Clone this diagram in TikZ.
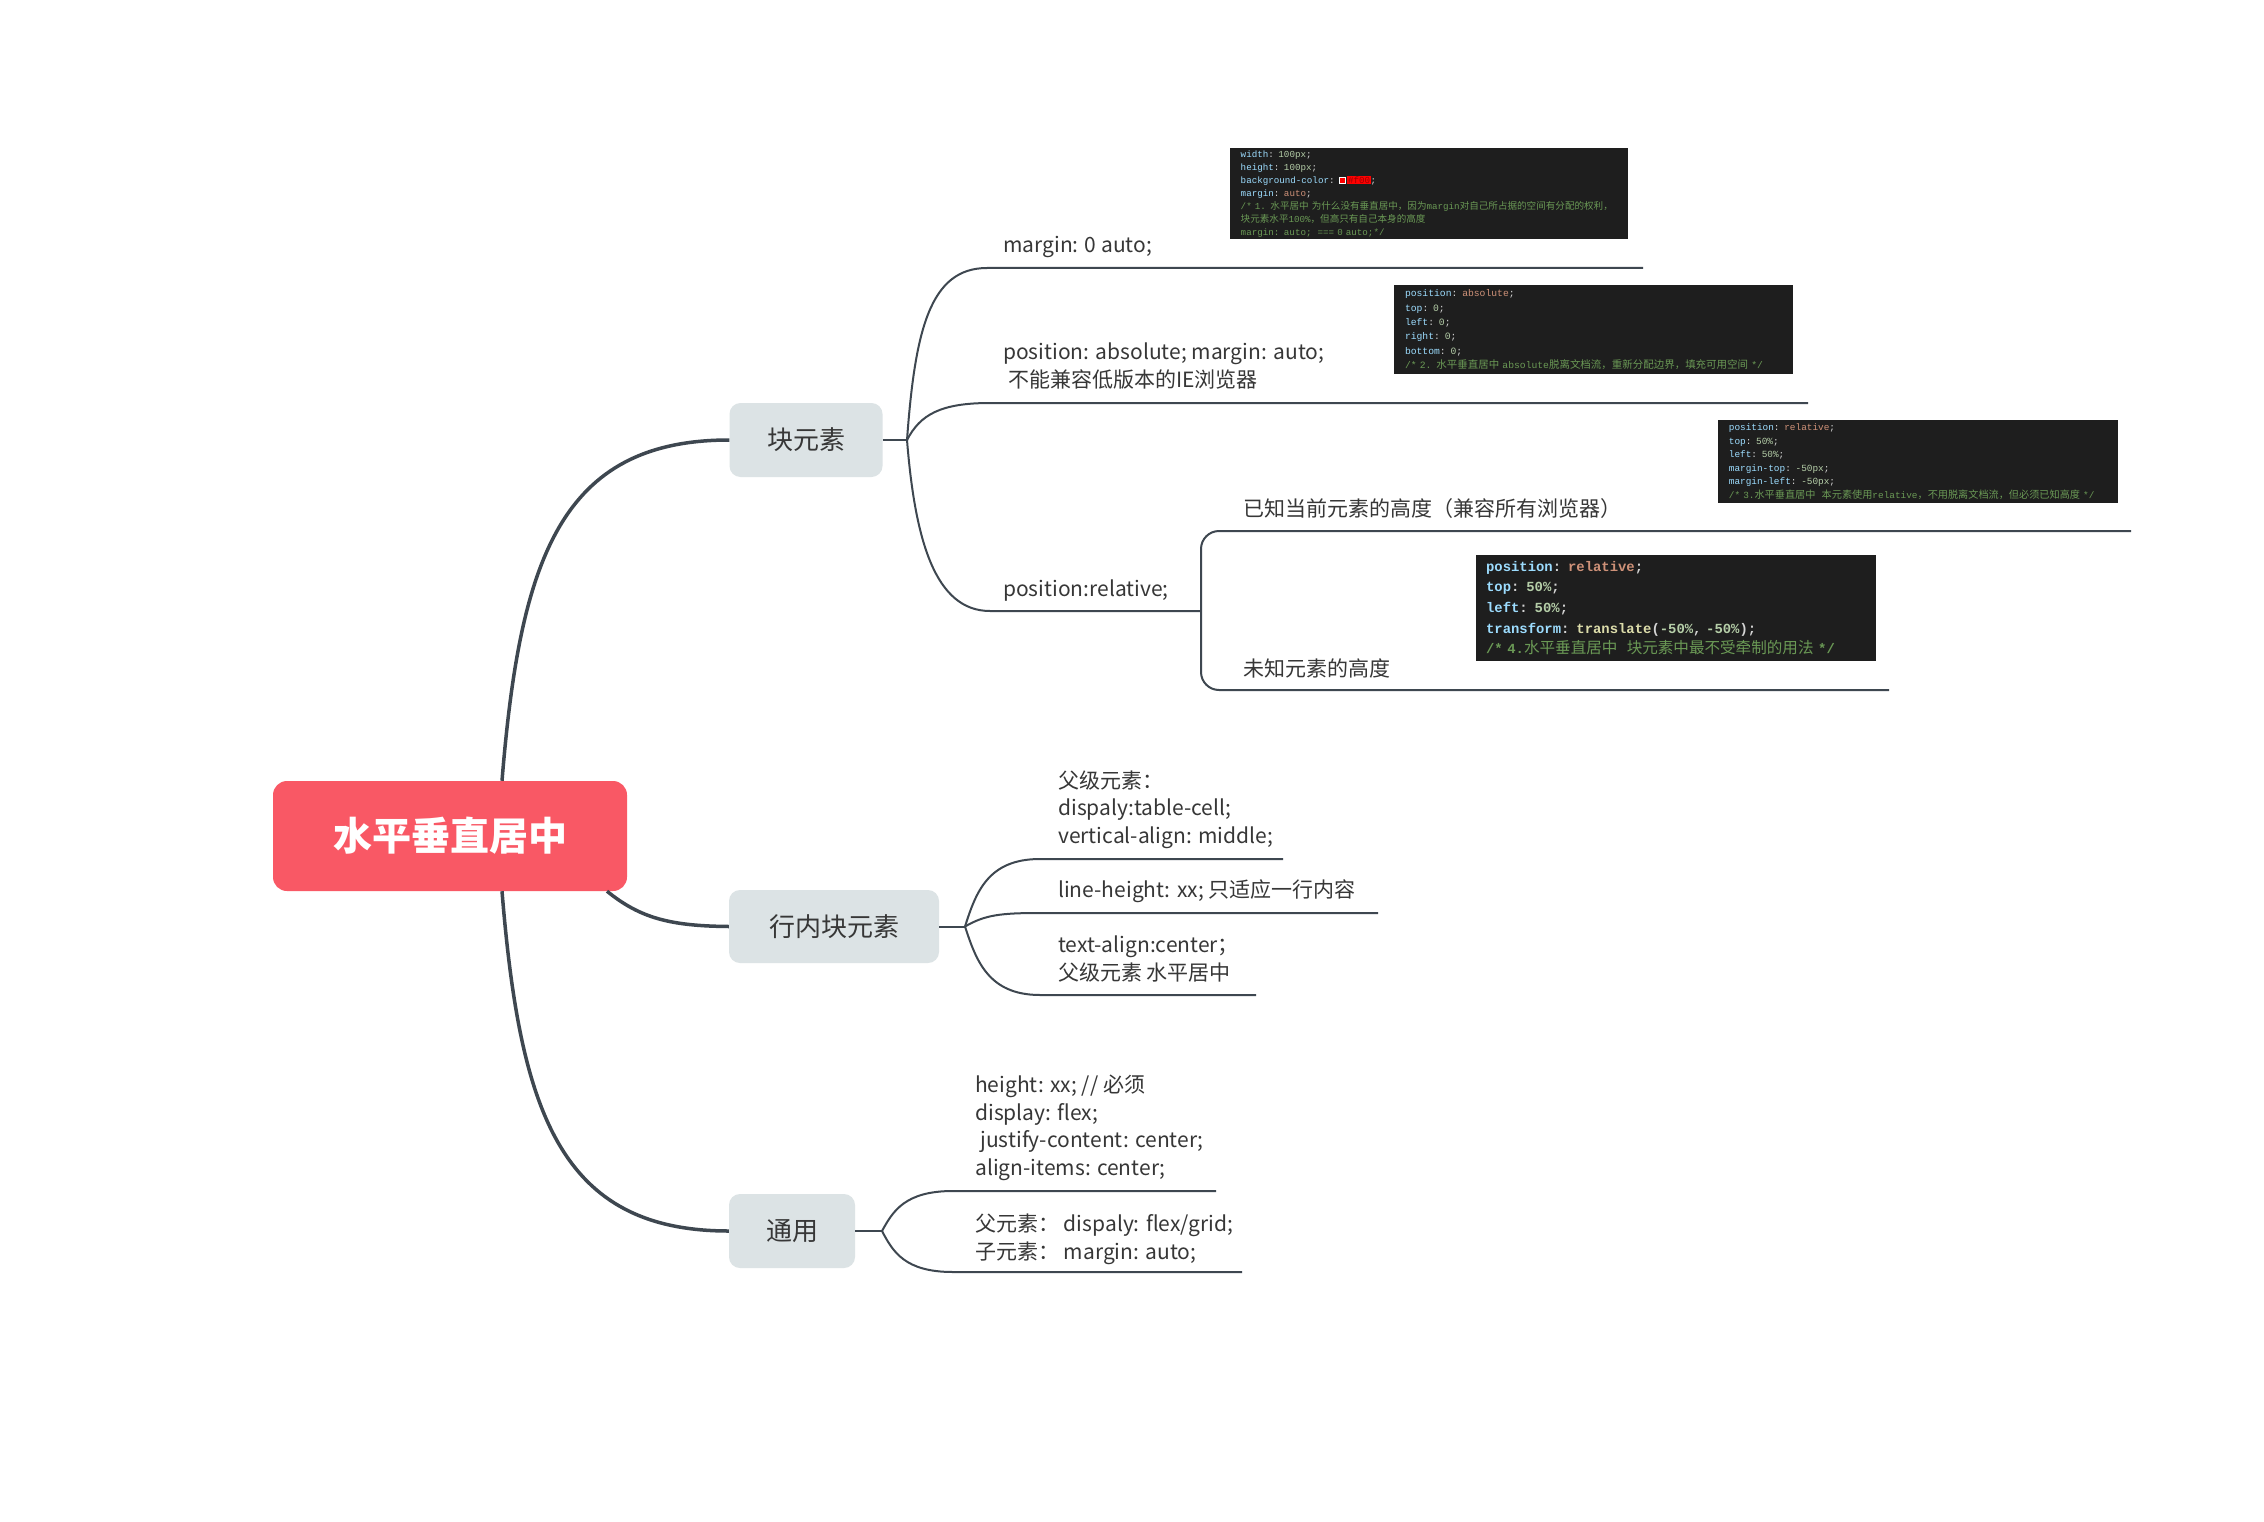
\documentclass[tikz,border=0pt]{standalone}
\usepackage{fontspec}
\setmainfont{Noto Sans CJK SC}
\setmonofont{Liberation Mono}
\newfontfamily\cjka{Noto Sans CJK SC}[Scale=1.04]
\newfontfamily\cjkb{Noto Sans CJK SC}[Scale=1.08]
\newfontfamily\cjkd{Noto Sans CJK SC}[Scale=1.12]
\definecolor{rootred}{RGB}{249,88,101}
\definecolor{subfill}{RGB}{220,227,229}
\definecolor{linec}{RGB}{62,71,80}
\definecolor{txt}{RGB}{55,55,55}
\definecolor{codebg}{RGB}{30,30,30}
\definecolor{cpun}{RGB}{212,212,212}
\definecolor{ckey}{RGB}{156,220,254}
\definecolor{cnum}{RGB}{181,206,168}
\definecolor{cstr}{RGB}{206,145,120}
\definecolor{ccom}{RGB}{106,153,85}
\definecolor{cfun}{RGB}{220,220,170}
\definecolor{hlt}{RGB}{150,0,0}
\newcommand\myind{\hspace*{0.6em}}
\newcommand\myinda{\hspace*{0.35em}}
\newcommand\cdk[1]{\textcolor{ckey}{#1}}
\newcommand\cdn[1]{\textcolor{cnum}{#1}}
\newcommand\cds[1]{\textcolor{cstr}{#1}}
\newcommand\cdc[1]{\textcolor{ccom}{#1}}
\newcommand\myswatch{{\setlength\fboxsep{0pt}\setlength\fboxrule{0.6pt}\fcolorbox{white}{red}{\rule{0pt}{5.5pt}\hspace{5.5pt}}}}
\newcommand\myhlred[1]{{\setlength\fboxsep{0.6pt}\colorbox{red}{\textcolor{hlt}{#1}}}}
\begin{document}
\begin{tikzpicture}[x=1pt,y=-1pt,
  root/.style={fill=rootred, rounded corners=14pt, minimum width=354pt, minimum height=110pt, text=white, font=\fontsize{39}{39}\selectfont\bfseries},
  topic/.style={fill=subfill, rounded corners=11pt, minimum height=74pt, text=txt, font=\fontsize{26}{26}\selectfont},
  mainline/.style={draw=linec, line width=3.5pt},
  subline/.style={draw=linec, line width=2pt},
  leaf/.style={anchor=base west, inner sep=0pt, text=txt, align=left, font=\fontsize{21}{27.5}\selectfont},
  codebox/.style={fill=codebg, anchor=north west, inner xsep=5pt, inner ysep=0pt, align=left, text=cpun}
]
\useasboundingbox (0,0) rectangle (2264,1522);
\fill[white] (0,0) rectangle (2264,1522);

% main nodes
\node[root] (root) at (450,836) {水平垂直居中};
\node[topic, minimum width=153pt] (kuai) at (806,440) {块元素};
\node[topic, minimum width=210pt, minimum height=73pt] (hang) at (834,926.5) {行内块元素};
\node[topic, minimum width=126pt] (ty) at (792,1231) {通用};

% main connectors
\draw[mainline] ([xshift=52pt]root.north) .. controls (520,560) and (560,440) .. (kuai.west);
\draw[mainline] ([xshift=157pt]root.south) .. controls (640,918) and (670,926) .. (hang.west);
\draw[mainline] ([xshift=52pt]root.south) .. controls (520,1112) and (560,1231) .. (ty.west);

% junctions
\coordinate (jk) at (907,440);
\coordinate (jh) at (965,926.5);
\coordinate (jt) at (882,1231);
\coordinate (rb) at (1201,611);

% code images
\node[codebox, minimum width=398pt, minimum height=91pt, text width=388pt, font=\ttfamily\fontsize{9.2}{13}\selectfont] (code1) at (1230,148) {%
\myind\cdk{width}: \cdn{100px};\\
\myind\cdk{height}: \cdn{100px};\\
\myind\cdk{background-color}: \myswatch\,\myhlred{\#f00};\\
\myind\cdk{margin}: \cds{auto};\\
\myind\cdc{/* 1. {\cjka 水平居中} {\cjka 为什么没有垂直居中，因为}margin{\cjka 对自己所占据的空间有分配的权利，}}\\
\myind\cdc{{\cjka 块元素水平}100\%{\cjka ，但高只有自己本身的高度}}\\
\myind\cdc{margin: auto;\ \ ===\ 0 auto;*/}};

\node[codebox, minimum width=399pt, minimum height=89pt, text width=389pt, font=\ttfamily\fontsize{9.7}{14.3}\selectfont] (code2) at (1394,285) {%
\myind\cdk{position}: \cds{absolute};\\
\myind\cdk{top}: \cdn{0};\\
\myind\cdk{left}: \cdn{0};\\
\myind\cdk{right}: \cdn{0};\\
\myind\cdk{bottom}: \cdn{0};\\
\myind\cdc{/* 2. {\cjkb 水平垂直居中} absolute{\cjkb 脱离文档流，重新分配边界，填充可用空间} */}};

\node[codebox, minimum width=400pt, minimum height=83pt, text width=390pt, font=\ttfamily\fontsize{9.4}{13.5}\selectfont] (code3) at (1718,420) {%
\myind\cdk{position}: \cds{relative};\\
\myind\cdk{top}: \cdn{50\%};\\
\myind\cdk{left}: \cdn{50\%};\\
\myind\cdk{margin-top}: \cdn{-50px};\\
\myind\cdk{margin-left}: \cdn{-50px};\\
\myind\cdc{/* 3.{\cjkb 水平垂直居中}\ \ {\cjkb 本元素使用}relative{\cjkb ，不用脱离文档流，但必须已知高度} */}};

\node[codebox, minimum width=400pt, minimum height=106pt, text width=390pt, font=\ttfamily\bfseries\fontsize{13.9}{20.6}\selectfont] (code4) at (1476,555) {%
\myinda\cdk{position}: \cds{relative};\\
\myinda\cdk{top}: \cdn{50\%};\\
\myinda\cdk{left}: \cdn{50\%};\\
\myinda\cdk{transform}: \textcolor{cfun}{translate}(\cdn{-50\%}, \cdn{-50\%});\\
\myinda\cdc{/* 4.{\cjkd\mdseries 水平垂直居中}\ \ {\cjkd\mdseries 块元素中最不受牵制的用法} */}};

% leaf texts (anchor = baseline of the last line)
\node[leaf] (t1) at (1003,253) {margin: 0 auto;};
\node[leaf] (t2) at (1003,387) {position: absolute; margin: auto;\\\hspace*{0.25em}不能兼容低版本的IE浏览器};
\node[leaf] (t3) at (1003,596) {position:relative;};
\node[leaf] (t4) at (1243,516) {已知当前元素的高度（兼容所有浏览器）};
\node[leaf] (t5) at (1243,676) {未知元素的高度};
\node[leaf] (t6) at (1058,843) {父级元素：\\dispaly:table-cell;\\vertical-align: middle;};
\node[leaf] (t7) at (1058,897) {line-height: xx; 只适应一行内容};
\node[leaf] (t8) at (1058,980) {text-align:center；\\父级元素 水平居中};
\node[leaf] (t9) at (975,1175) {height: xx; // 必须\\display: flex;\\\hspace*{0.25em}justify-content: center;\\align-items: center;};
\node[leaf] (t10) at (975,1259) {父元素：\ dispaly: flex/grid;\\子元素：\ margin: auto;};

% block element branches
\draw[subline] (kuai.east) -- (jk);
\draw[subline] (jk) .. controls (915,330) and (930,268) .. (987,268) -- (1643,268);
\draw[subline] (jk) .. controls (920,415) and (940,403) .. (990,403) -- (1808,403);
\draw[subline] (jk) .. controls (915,540) and (935,611) .. (990,611) -- (rb);
\draw[subline, rounded corners=18pt] (2131,531) -- (1201,531) -- (1201,690) -- (1889,690);

% inline-block branches
\draw[subline] (hang.east) -- (jh);
\draw[subline] (jh) .. controls (976,892) and (988,859) .. (1040,859) -- (1283,859);
\draw[subline] (jh) .. controls (985,915) and (1000,913) .. (1040,913) -- (1378,913);
\draw[subline] (jh) .. controls (976,960) and (988,995) .. (1040,995) -- (1256,995);

% general branches
\draw[subline] (ty.east) -- (jt);
\draw[subline] (jt) .. controls (893,1211) and (905,1191) .. (953,1191) -- (1216,1191);
\draw[subline] (jt) .. controls (893,1252) and (905,1272) .. (953,1272) -- (1242,1272);
\end{tikzpicture}
\end{document}
